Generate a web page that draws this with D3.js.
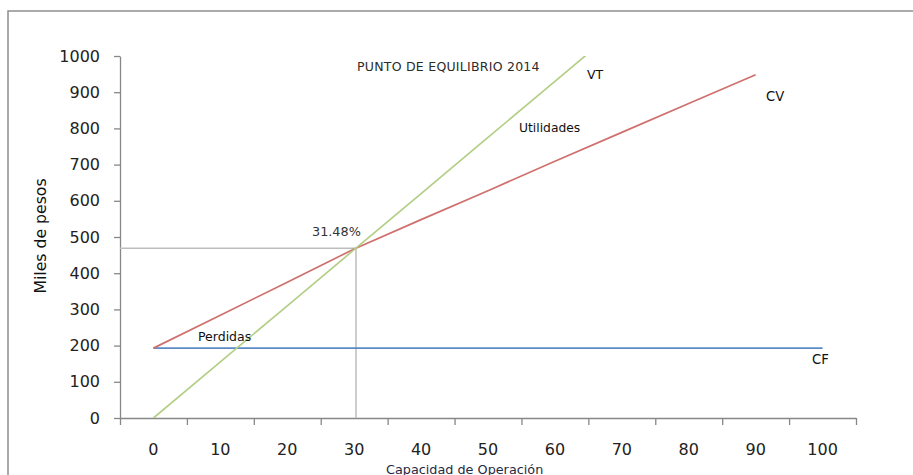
<!DOCTYPE html>
<html>
<head>
<meta charset="utf-8">
<script src="https://cdn.jsdelivr.net/npm/d3@7"></script>
<style>
  html, body { margin: 0; padding: 0; background: #fff; }
  svg { display: block; }
</style>
</head>
<body>
<svg id="chart" width="913" height="475"></svg>
<script>
// Capacity categories (percent of operating capacity)
const categories = ["0", "10", "20", "30", "40", "50", "60", "70", "80", "90", "100"];
// Fixed costs (CF), thousands of pesos
const cfValues = [193, 193, 193, 193, 193, 193, 193, 193, 193, 193, 193];
// Total costs line (CV), thousands of pesos
const cvValues = [193, 284, 375, 467, 548, 628, 709, 789, 869, 948];
// Sales (VT), thousands of pesos
const vtValues = [0, 155, 310, 465, 620, 775, 930, 1085, 1240, 1395, 1550];
// Value-axis ticks
const yTicks = [0, 100, 200, 300, 400, 500, 600, 700, 800, 900, 1000];
const breakEvenText = "31.48%";

const svg = d3.select("#chart");
const plot = { left: 120, right: 856, top: 56, bottom: 418 };

// Outer chart frame
svg.append("rect")
  .attr("x", 8).attr("y", 11).attr("width", 1000).attr("height", 600)
  .attr("fill", "none").attr("stroke", "#8f8f8f").attr("stroke-width", 1.5);

const x = d3.scaleBand().domain(categories).range([plot.left, plot.right]).padding(0);
const xEdges = d3.scaleLinear().domain([0, categories.length]).range([plot.left, plot.right]);
const y = d3.scaleLinear().domain([0, 1000]).range([plot.bottom, plot.top]);
const cx = c => x(c) + x.bandwidth() / 2;

svg.append("defs").append("clipPath").attr("id", "plotClip")
  .append("rect")
  .attr("x", plot.left).attr("y", plot.top)
  .attr("width", plot.right - plot.left).attr("height", plot.bottom - plot.top);

const axisColor = "#878787";
const tickFont = "'DejaVu Sans', Verdana, sans-serif";

// Y axis
const yAxis = svg.append("g")
  .attr("transform", `translate(${plot.left},0)`)
  .call(d3.axisLeft(y).tickValues(yTicks).tickFormat(d3.format("d"))
    .tickSize(6).tickPadding(14).tickSizeOuter(0));
yAxis.select(".domain").attr("stroke", axisColor).attr("stroke-width", 1.3);
yAxis.selectAll(".tick line").attr("stroke", axisColor).attr("stroke-width", 1.3);
yAxis.selectAll(".tick text").attr("font-family", tickFont).attr("font-size", 16).attr("fill", "#222");

// X axis: tick marks between categories
const xTickAxis = svg.append("g")
  .attr("transform", `translate(0,${plot.bottom})`)
  .call(d3.axisBottom(xEdges).ticks(categories.length).tickFormat("").tickSize(7).tickSizeOuter(0));
xTickAxis.select(".domain").attr("stroke", axisColor).attr("stroke-width", 1.3);
xTickAxis.selectAll(".tick line").attr("stroke", axisColor).attr("stroke-width", 1.3);

// X axis: category labels centred in each band
const xLabelAxis = svg.append("g")
  .attr("transform", `translate(0,${plot.bottom})`)
  .call(d3.axisBottom(x).tickSize(0).tickPadding(26));
xLabelAxis.select(".domain").remove();
xLabelAxis.selectAll(".tick text").attr("font-family", tickFont).attr("font-size", 16).attr("fill", "#222");

// Break-even point: where sales cross total costs
let be = null;
for (let i = 0; i < cvValues.length - 1 && !be; i++) {
  const d0 = vtValues[i] - cvValues[i];
  const d1 = vtValues[i + 1] - cvValues[i + 1];
  if (d0 <= 0 && d1 > 0) {
    const t = -d0 / (d1 - d0);
    be = {
      px: cx(categories[i]) + t * x.bandwidth(),
      value: vtValues[i] + t * (vtValues[i + 1] - vtValues[i])
    };
  }
}

// Drop lines to the axes
if (be) {
  svg.append("line")
    .attr("x1", plot.left).attr("x2", be.px)
    .attr("y1", y(be.value)).attr("y2", y(be.value))
    .attr("stroke", "#bdbdbd").attr("stroke-width", 1.5);
  svg.append("line")
    .attr("x1", be.px).attr("x2", be.px)
    .attr("y1", y(be.value)).attr("y2", plot.bottom)
    .attr("stroke", "#bdbdbd").attr("stroke-width", 1.5);
}

const lineGen = d3.line().x(d => cx(d.c)).y(d => y(d.v));
const seriesList = [
  { values: cfValues, color: "#5b8ac6" },
  { values: cvValues, color: "#d0706e" },
  { values: vtValues, color: "#b3cf86" }
];
const lines = svg.append("g").attr("clip-path", "url(#plotClip)");
seriesList.forEach(s => {
  lines.append("path")
    .datum(s.values.map((v, i) => ({ c: categories[i], v })))
    .attr("d", lineGen)
    .attr("fill", "none")
    .attr("stroke", s.color)
    .attr("stroke-width", 1.7);
});

// Text annotations
const annoFont = "'DejaVu Sans', Verdana, sans-serif";
const notes = [
  { text: "PUNTO DE EQUILIBRIO 2014", x: 357, y: 71, size: 12.5, ls: 0.25, fill: "#2b2b2b" },
  { text: "VT", x: 587, y: 78.5, size: 12.5, ls: 0, fill: "#111" },
  { text: "Utilidades", x: 519, y: 132, size: 12.3, ls: 0, fill: "#111" },
  { text: "CV", x: 766, y: 100.5, size: 13.2, ls: 0, fill: "#111" },
  { text: "CF", x: 812, y: 364, size: 13.2, ls: 0, fill: "#111" },
  { text: breakEvenText, x: 312, y: 235.5, size: 12.8, ls: 0, fill: "#333" },
  { text: "Perdidas", x: 198, y: 340.5, size: 12.5, ls: 0, fill: "#111" },
  { text: "Capacidad de Operación", x: 386, y: 473.5, size: 12.8, ls: 0, fill: "#1f2a44" }
];
svg.append("g").selectAll("text").data(notes).join("text")
  .attr("x", d => d.x).attr("y", d => d.y)
  .attr("font-family", annoFont)
  .attr("font-size", d => d.size)
  .attr("letter-spacing", d => d.ls)
  .attr("fill", d => d.fill)
  .text(d => d.text);

// Value-axis title
svg.append("text")
  .attr("transform", "translate(46,236) rotate(-90)")
  .attr("text-anchor", "middle")
  .attr("font-family", annoFont)
  .attr("font-size", 15.7)
  .attr("fill", "#111")
  .text("Miles de pesos");
</script>
</body>
</html>
